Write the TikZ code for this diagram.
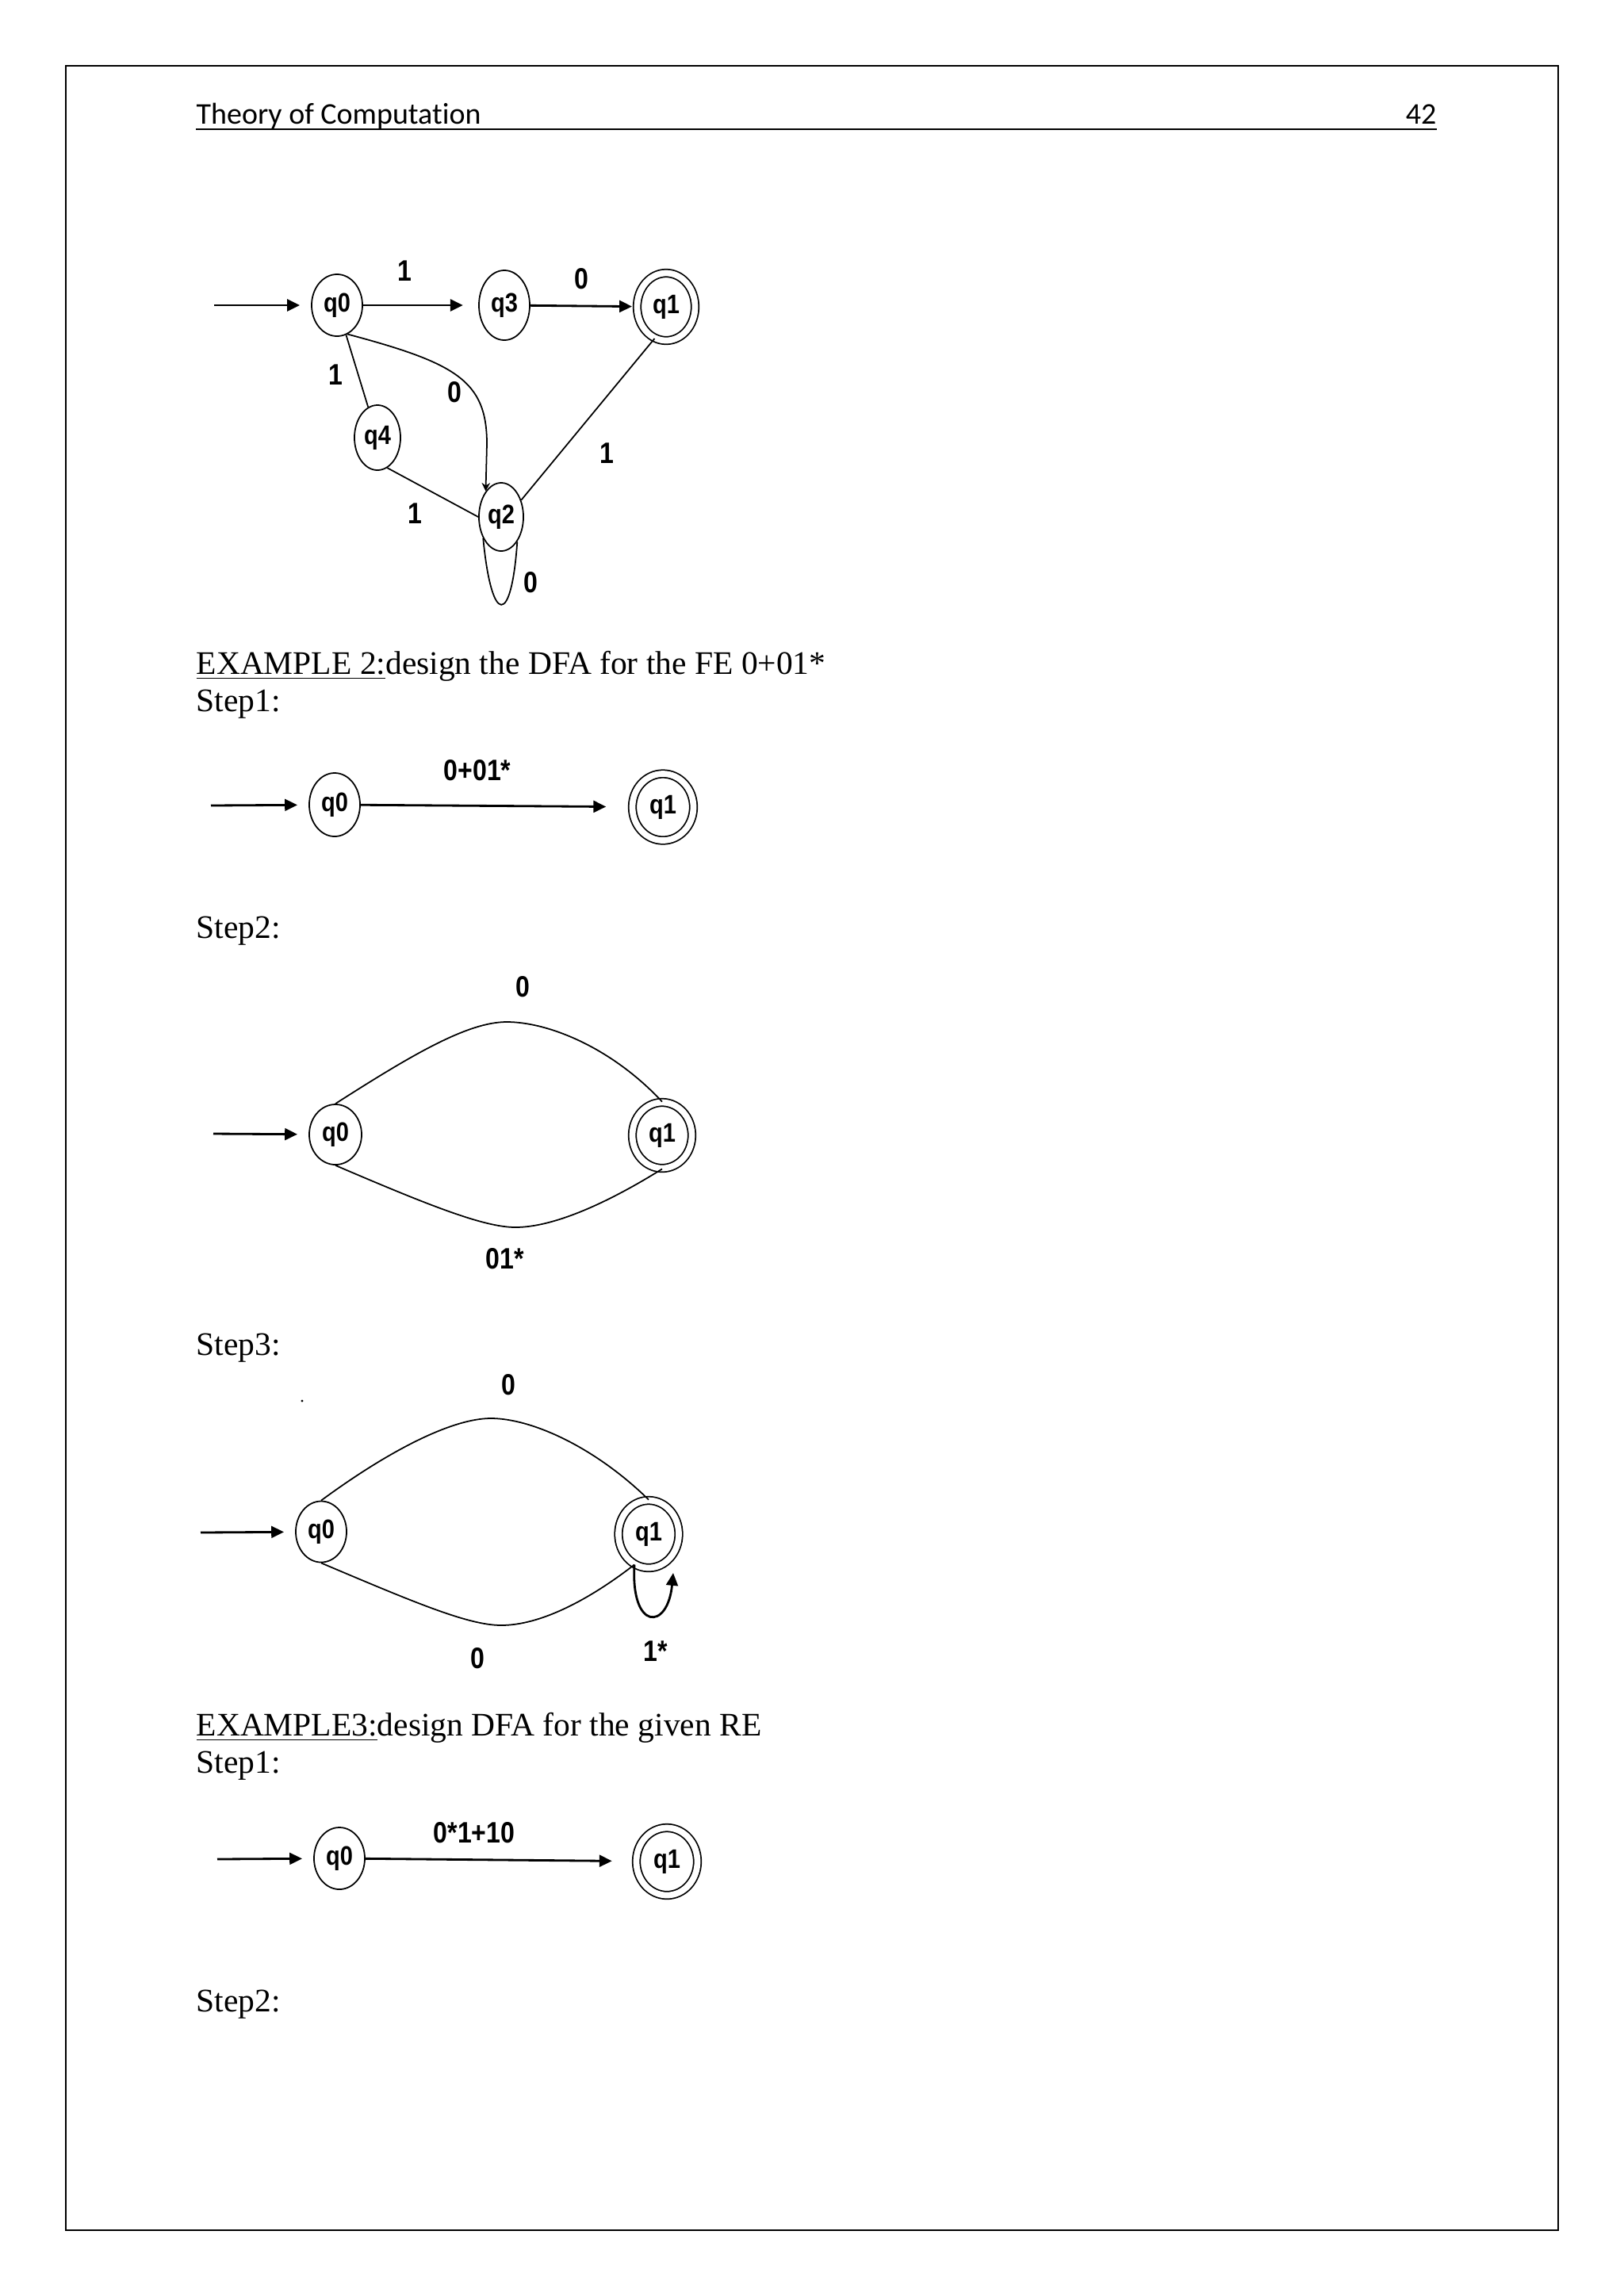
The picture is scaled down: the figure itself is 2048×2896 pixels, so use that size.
\documentclass[tikz,border=0pt]{standalone}
\usepackage{fontspec}
\setmainfont{Liberation Serif}
\newfontfamily\headfont{Carlito}[Ligatures=NoCommon]
\newfontfamily\dfafont{Liberation Sans}[FakeStretch=0.86]
\usetikzlibrary{arrows.meta,shapes.geometric}

\begin{document}
\begin{tikzpicture}[
  x=0.01cm, y=-0.01cm,
  state/.style={ellipse, draw, line width=0.5pt, inner sep=0pt, minimum width=0.64cm, minimum height=0.78cm, font=\dfafont\bfseries\fontsize{9.6}{11}\selectfont},
  accept/.style={state, double, double distance=2.2pt, minimum width=0.76cm, minimum height=0.85cm},
  lbl/.style={inner sep=0pt, font=\dfafont\bfseries\fontsize{10.6}{12}\selectfont},
  body/.style={anchor=base west, inner sep=0pt, font=\fontsize{11.8}{14}\selectfont},
  link/.style={line width=0.5pt},
  arr/.style={-{Triangle[length=4.5pt,width=4.2pt]}, line width=0.8pt},
  init/.style={arr, shorten >=4pt}
]
\useasboundingbox (0,0) rectangle (2048,2896);
\draw[line width=0.6pt] (83,83) rectangle (1965,2813);
\node[anchor=base west, inner sep=0pt, font=\headfont\fontsize{10.8}{13}\selectfont] (hdr) at (247,156) {Theory of Computation};
\node[anchor=base east, inner sep=0pt, font=\headfont\fontsize{10.8}{13}\selectfont] (pg) at (1812,156) {42};
\draw[line width=0.6pt] (247,163) -- (1812,163);

\node[state] (a0) at (425,385) {q0};
\node[state, minimum height=0.88cm] (a3) at (636,385) {q3};
\node[accept, minimum width=0.73cm] (a1) at (840,387) {q1};
\node[state, minimum width=0.58cm, minimum height=0.82cm] (a4) at (476,552) {q4};
\node[state, minimum width=0.56cm, minimum height=0.86cm] (a2) at (632,652) {q2};
\coordinate (ai) at (270,385);
\draw[init] (ai) -- (a0);
\draw[arr, shorten >=5.5pt] (a0) -- (a3);
\draw[arr, shorten >=1.6pt] (a3) -- (a1);
\draw[link] (a0) -- (a4);
\draw[link, -{Stealth[length=3pt,width=3pt]}] (a0.-70) .. controls (575,458) and (614,480) .. (614,560) -- (a2.121);
\draw[link] (a4.-72) -- (a2.west);
\draw[link] (a2.40) -- (a1.-110);
\draw[link] (a2.-130) .. controls (620,790) and (645,790) .. (a2.-57);
\node[lbl] (la1) at (510,342) {1};
\node[lbl] (la2) at (733,352) {0};
\node[lbl] (la3) at (423,473) {1};
\node[lbl] (la4) at (573,495) {0};
\node[lbl] (la5) at (523,648) {1};
\node[lbl] (la6) at (765,572) {1};
\node[lbl] (la7) at (669,735) {0};

\node[body] (ex2) at (247,850) {\underline{EXAMPLE 2:}design the DFA for the FE 0+01*};
\node[body] (ex2s1) at (247,897) {Step1:};

\node[state, minimum height=0.80cm] (b0) at (422,1015) {q0};
\node[accept, minimum width=0.77cm, minimum height=0.84cm] (b1) at (836,1018) {q1};
\coordinate (bi) at (266,1016);
\draw[init] (bi) -- (b0);
\draw[arr, shorten >=9.2pt] (b0) -- (b1);
\node[lbl] (lb1) at (602,972) {0+01*};

\node[body] (ex2s2) at (247,1183) {Step2:};

\node[state, minimum width=0.66cm, minimum height=0.76cm] (c0) at (423,1431) {q0};
\node[accept, minimum width=0.75cm, minimum height=0.83cm] (c1) at (835,1432) {q1};
\coordinate (ci) at (269,1430);
\draw[init] (ci) -- (c0);
\draw[link] (c0.north) .. controls (520,1330) and (590,1289) .. (639,1289) .. controls (690,1289) and (770,1320) .. (c1.north);
\draw[link] (c0.south) .. controls (540,1520) and (610,1548) .. (650,1548) .. controls (700,1548) and (770,1515) .. (c1.south);
\node[lbl] (lc1) at (659,1245) {0};
\node[lbl] (lc2) at (637,1588) {01*};

\node[body] (ex2s3) at (247,1709) {Step3:};

\fill (381,1767) circle (1.6);
\node[state, minimum height=0.77cm] (d0) at (405,1932) {q0};
\node[accept] (d1) at (818,1935) {q1};
\coordinate (di) at (253,1933);
\draw[init] (di) -- (d0);
\draw[link] (d0.north) .. controls (490,1830) and (570,1789) .. (619,1789) .. controls (670,1789) and (750,1825) .. (d1.north);
\draw[link] (d0.south) .. controls (520,2020) and (590,2050) .. (632,2050) .. controls (680,2050) and (740,2020) .. (d1.-115);
\draw[arr] (d1.-115) .. controls (795,2057) and (842,2057) .. (849,1984);
\node[lbl] (ld1) at (641,1747) {0};
\node[lbl] (ld2) at (602,2092) {0};
\node[lbl] (ld3) at (827,2083) {1*};

\node[body] (ex3) at (247,2189) {\underline{EXAMPLE3:}design DFA for the given RE};
\node[body] (ex3s1) at (247,2236) {Step1:};

\node[state] (e0) at (428,2344) {q0};
\node[accept, minimum width=0.77cm] (e1) at (841,2348) {q1};
\coordinate (ei) at (274,2345);
\draw[init] (ei) -- (e0);
\draw[arr, shorten >=8.5pt] (e0) -- (e1);
\node[lbl] (le1) at (598,2312) {0*1+10};

\node[body] (ex3s2) at (247,2537) {Step2:};
\end{tikzpicture}
\end{document}
